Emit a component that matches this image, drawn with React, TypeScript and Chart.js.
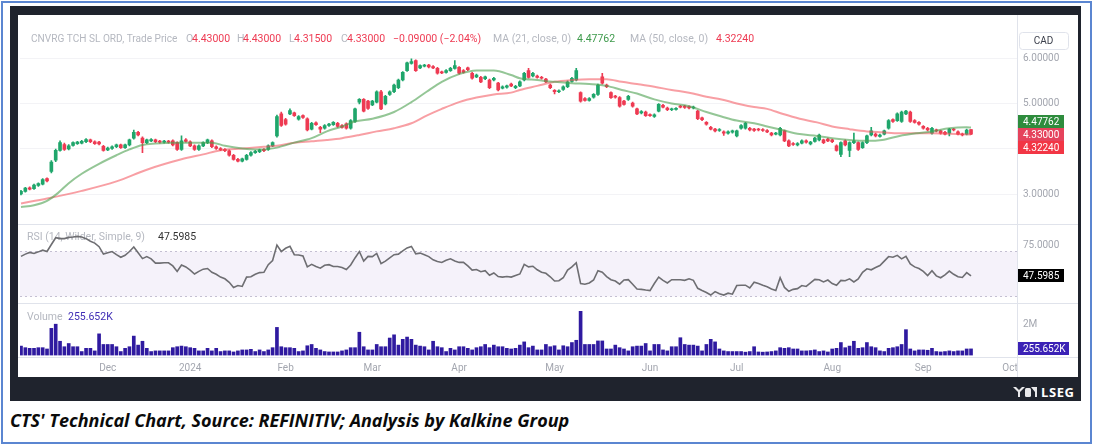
import React, { useEffect, useRef } from 'react';
import { Chart, registerables } from 'chart.js';

Chart.register(...registerables);

// ---------------- DATA (trading-day index 0 = early Nov 2023) ----------------
const opens = [
  3.00,3.06,3.14,3.12,3.19,3.22,3.34,3.50,3.75,3.97,
  4.10,4.00,4.08,4.12,4.13,4.16,4.20,4.16,4.15,4.06,
  3.98,4.01,4.05,4.09,4.03,4.09,4.24,4.37,4.24,4.14,
  4.18,4.20,4.17,4.15,4.17,4.18,4.14,3.99,4.20,4.16,
  4.07,3.99,4.07,4.14,4.18,4.05,4.01,3.99,3.96,3.86,
  3.77,3.73,3.77,3.86,3.92,3.94,3.99,3.99,4.07,4.29,
  4.78,4.65,4.78,4.80,4.66,4.74,4.67,4.44,4.58,4.48,
  4.46,4.52,4.54,4.57,4.52,4.56,4.46,4.61,5.04,5.10,
  5.06,4.98,5.04,5.27,5.00,5.21,5.27,5.36,5.53,5.74,
  5.90,5.96,5.80,5.84,5.86,5.83,5.79,5.71,5.70,5.74,
  5.79,5.81,5.74,5.80,5.68,5.60,5.59,5.56,5.53,5.53,
  5.46,5.35,5.37,5.44,5.36,5.40,5.53,5.74,5.62,5.62,
  5.59,5.55,5.42,5.30,5.27,5.32,5.38,5.50,5.53,5.25,
  5.12,5.08,5.15,5.21,5.60,5.42,5.25,5.17,5.14,5.06,
  5.10,5.02,4.89,4.80,4.82,4.76,4.72,4.84,4.97,4.91,
  4.87,4.88,4.95,4.95,4.94,4.91,4.84,4.69,4.59,4.48,
  4.44,4.41,4.38,4.35,4.37,4.29,4.46,4.46,4.46,4.44,
  4.44,4.43,4.41,4.35,4.33,4.31,4.40,4.18,4.12,4.09,
  4.13,4.18,4.11,4.17,4.20,4.20,4.22,4.20,4.07,3.88,
  4.18,3.97,4.14,4.14,4.03,4.14,4.31,4.33,4.28,4.33,
  4.46,4.65,4.63,4.61,4.78,4.82,4.63,4.59,4.50,4.46,
  4.35,4.42,4.40,4.37,4.35,4.44,4.38,4.33,4.33,4.43,
];
const highs = [
  3.08,3.15,3.16,3.22,3.25,3.34,3.36,3.74,4.00,4.18,
  4.13,4.10,4.16,4.17,4.19,4.23,4.22,4.18,4.17,4.08,
  4.04,4.07,4.11,4.11,4.11,4.22,4.42,4.39,4.27,4.22,
  4.23,4.22,4.19,4.19,4.19,4.20,4.16,4.29,4.23,4.18,
  4.09,4.09,4.16,4.22,4.20,4.07,4.03,4.01,3.98,3.88,
  3.79,3.80,3.88,3.94,3.97,4.00,4.01,4.09,4.16,4.75,
  4.82,4.68,4.89,4.82,4.74,4.76,4.69,4.59,4.60,4.50,
  4.54,4.57,4.61,4.59,4.54,4.58,4.65,4.91,5.12,5.12,
  5.08,5.08,5.29,5.30,5.19,5.29,5.44,5.55,5.72,5.93,
  6.00,5.98,5.87,5.88,5.88,5.85,5.81,5.73,5.76,5.81,
  5.96,5.83,5.76,5.82,5.70,5.66,5.61,5.62,5.55,5.59,
  5.48,5.40,5.42,5.46,5.41,5.51,5.70,5.79,5.70,5.64,
  5.61,5.57,5.44,5.32,5.31,5.40,5.51,5.59,5.79,5.27,
  5.14,5.14,5.23,5.44,5.68,5.44,5.27,5.19,5.16,5.08,
  5.19,5.04,4.91,4.85,4.84,4.78,4.78,5.01,4.99,4.93,
  4.91,4.92,4.97,4.97,4.96,4.95,4.86,4.71,4.61,4.50,
  4.46,4.45,4.40,4.40,4.42,4.42,4.54,4.59,4.48,4.46,
  4.46,4.45,4.43,4.37,4.37,4.48,4.42,4.20,4.14,4.14,
  4.20,4.20,4.17,4.26,4.33,4.22,4.24,4.22,4.09,4.16,
  4.20,4.16,4.35,4.16,4.16,4.31,4.48,4.35,4.33,4.42,
  4.65,4.67,4.80,4.84,4.86,4.84,4.65,4.61,4.52,4.48,
  4.48,4.44,4.42,4.39,4.46,4.46,4.40,4.35,4.44,4.43,
];
const lows = [
  2.98,3.04,3.09,3.10,3.17,3.20,3.27,3.47,3.72,3.95,
  3.97,3.98,4.06,4.10,4.11,4.14,4.14,4.10,4.09,3.95,
  3.96,3.99,4.03,4.01,4.01,4.07,4.22,4.29,3.92,4.12,
  4.16,4.14,4.13,4.13,4.13,4.07,3.97,3.97,4.15,4.05,
  3.97,3.97,4.05,4.12,4.03,3.99,3.96,3.94,3.84,3.75,
  3.71,3.71,3.75,3.84,3.90,3.92,3.94,3.97,4.05,4.26,
  4.50,4.53,4.76,4.72,4.64,4.68,4.40,4.42,4.52,4.36,
  4.44,4.50,4.52,4.48,4.46,4.44,4.44,4.59,5.00,4.82,
  4.88,4.96,5.02,4.87,4.98,5.19,5.25,5.34,5.51,5.72,
  5.88,5.72,5.78,5.82,5.80,5.78,5.66,5.67,5.68,5.72,
  5.77,5.66,5.68,5.74,5.55,5.58,5.47,5.54,5.34,5.51,
  5.29,5.33,5.35,5.38,5.34,5.38,5.51,5.57,5.60,5.57,
  5.55,5.47,5.34,5.22,5.25,5.30,5.36,5.48,5.51,5.04,
  5.06,5.06,5.13,5.19,5.44,5.36,5.12,5.13,4.93,4.97,
  5.08,4.93,4.76,4.78,4.72,4.72,4.70,4.82,4.91,4.85,
  4.85,4.86,4.91,4.90,4.89,4.89,4.65,4.63,4.53,4.42,
  4.38,4.39,4.30,4.33,4.35,4.27,4.44,4.44,4.40,4.39,
  4.40,4.39,4.36,4.29,4.31,4.29,4.16,4.05,4.08,4.07,
  4.11,4.13,4.09,4.15,4.18,4.12,4.16,4.14,3.95,3.83,
  4.07,3.83,4.12,3.97,4.01,4.12,4.29,4.27,4.26,4.31,
  4.44,4.59,4.61,4.59,4.76,4.59,4.57,4.53,4.44,4.40,
  4.33,4.38,4.33,4.31,4.29,4.40,4.31,4.29,4.31,4.315,
];
const closes = [
  3.06,3.13,3.11,3.20,3.23,3.32,3.29,3.71,3.97,4.14,
  3.99,4.07,4.14,4.15,4.17,4.21,4.16,4.12,4.11,3.97,
  4.02,4.05,4.09,4.03,4.09,4.20,4.37,4.31,4.14,4.20,
  4.21,4.16,4.15,4.17,4.15,4.09,3.99,4.18,4.17,4.07,
  3.99,4.07,4.14,4.20,4.05,4.01,3.98,3.96,3.86,3.77,
  3.73,3.78,3.86,3.92,3.95,3.98,3.96,4.07,4.14,4.72,
  4.52,4.55,4.85,4.74,4.72,4.70,4.42,4.57,4.54,4.44,
  4.52,4.55,4.59,4.50,4.48,4.46,4.63,4.89,5.10,4.84,
  4.90,5.06,5.27,4.89,5.17,5.27,5.42,5.53,5.70,5.91,
  5.94,5.74,5.85,5.86,5.82,5.80,5.68,5.69,5.74,5.79,
  5.85,5.68,5.70,5.76,5.57,5.64,5.49,5.60,5.36,5.57,
  5.31,5.38,5.40,5.40,5.39,5.49,5.68,5.59,5.68,5.59,
  5.57,5.49,5.36,5.27,5.29,5.38,5.49,5.57,5.74,5.06,
  5.08,5.12,5.21,5.42,5.46,5.38,5.14,5.15,4.95,4.99,
  5.17,4.95,4.78,4.83,4.74,4.74,4.76,4.99,4.93,4.87,
  4.89,4.90,4.93,4.92,4.91,4.93,4.67,4.65,4.55,4.44,
  4.40,4.43,4.35,4.38,4.40,4.40,4.52,4.57,4.42,4.41,
  4.42,4.41,4.38,4.31,4.35,4.46,4.18,4.07,4.10,4.12,
  4.18,4.15,4.15,4.24,4.31,4.14,4.18,4.16,3.97,4.14,
  4.09,4.14,4.18,3.99,4.14,4.29,4.40,4.29,4.31,4.40,
  4.63,4.61,4.78,4.82,4.84,4.61,4.59,4.55,4.46,4.42,
  4.46,4.40,4.35,4.33,4.44,4.42,4.33,4.31,4.42,4.33,
];
// volume in thousands
const volumes = [
  454,341,295,295,341,341,250,1705,2000,795,
  409,636,409,409,68,295,295,114,1318,568,
  568,568,409,68,295,409,1159,523,795,295,
  68,114,114,114,114,341,409,454,409,341,
  295,114,114,295,114,295,68,114,114,40,
  114,182,182,227,68,182,68,182,341,1773,
  409,341,341,295,68,114,477,568,295,182,
  68,40,40,40,114,182,341,341,1432,409,
  182,182,568,409,409,1023,1250,523,932,1091,
  932,523,454,409,182,795,409,341,68,295,
  182,409,409,295,182,341,409,568,341,523,
  409,409,295,250,295,523,750,341,454,182,
  182,568,409,477,182,477,409,704,864,2909,
  568,568,568,818,818,250,250,523,341,250,
  114,409,454,454,636,114,568,568,182,114,
  409,409,1045,568,523,523,454,114,568,932,
  750,250,114,68,68,68,68,25,68,409,
  40,25,40,68,114,341,295,341,250,250,
  114,114,136,182,68,114,40,250,295,704,
  341,454,795,295,341,704,409,341,114,68,
  295,341,409,568,1614,250,114,182,182,159,
  295,68,40,68,114,68,114,114,250,255.652,
];
const rsiValues = [
  65.1,67.1,68.6,67.7,69.1,70.6,69.4,75.7,81.7,80.9,
  80.9,82.0,82.3,82.9,82.3,80.9,78.6,76.9,73.7,67.1,
  68.3,69.4,66.6,64.3,66.0,69.4,73.4,68.3,63.1,64.9,
  62.9,59.1,59.1,59.4,59.4,56.6,51.7,57.4,55.7,52.9,
  49.4,51.7,53.7,54.3,50.9,49.1,46.6,45.1,42.0,37.4,
  39.1,38.3,46.6,46.9,49.1,50.6,50.9,57.7,61.4,75.1,
  69.4,72.3,74.0,66.6,66.3,65.4,55.7,58.0,56.0,54.6,
  57.1,57.7,56.0,56.0,55.1,53.4,57.4,63.7,69.4,60.9,
  65.1,64.9,67.7,58.6,60.9,63.7,66.6,67.1,70.0,72.6,
  74.0,67.4,68.0,66.6,64.9,62.0,60.6,59.7,61.7,62.9,
  60.9,59.7,59.7,56.6,52.9,53.4,51.4,52.3,48.3,50.3,
  47.1,46.6,47.1,46.6,48.0,49.4,58.0,55.7,56.3,53.1,
  50.9,50.0,46.9,43.1,43.4,46.0,52.9,55.7,59.4,40.9,
  40.3,41.4,44.0,52.3,50.9,47.1,44.3,43.1,40.3,44.0,
  44.3,40.3,36.0,35.7,35.1,34.6,40.9,46.6,43.7,41.4,
  44.3,44.3,44.3,43.7,45.1,43.7,36.6,34.6,32.9,30.6,
  33.7,31.7,30.6,32.3,31.4,39.1,39.4,39.4,36.9,42.0,
  40.9,39.4,38.0,36.0,34.6,46.0,37.4,34.0,35.7,36.3,
  39.1,38.3,41.4,44.6,44.3,42.3,44.0,40.9,39.4,43.7,
  43.4,45.1,42.3,44.9,50.9,54.0,53.1,55.1,56.9,60.9,
  64.9,64.3,66.0,62.9,65.1,58.3,55.7,54.3,51.7,48.0,
  52.3,47.7,46.0,48.6,52.0,49.1,46.9,46.3,50.6,47.5985,
];
// moving averages at these trading-day indices
const ma21Idx = [0,3,6,8.5,11,14,18,22,25,28,31,35,39,44,47,51,54,56,59,63,67,70.5,74,77,81,86,90,93.5,97,101,105,109,113,115,119,123,127,131,135,138.5,142,146,150,154,158,161.5,165,169,172,175.5,179.5,183.5,187,191,195,198.5,202.5,206.5,210,214,218,219];
const ma21Vals = [2.71,2.75,2.85,3.02,3.24,3.45,3.67,3.86,3.99,4.09,4.12,4.14,4.14,4.14,4.07,4.01,3.99,3.99,4.03,4.14,4.24,4.39,4.50,4.61,4.67,4.82,5.04,5.27,5.49,5.66,5.74,5.74,5.64,5.57,5.53,5.49,5.46,5.44,5.40,5.31,5.23,5.10,5.01,4.95,4.82,4.72,4.63,4.57,4.50,4.42,4.33,4.29,4.24,4.20,4.18,4.20,4.29,4.35,4.39,4.46,4.48,4.47762];
const ma50Idx = [0,6,14,22,29,37,42,46,51,56,59,63,67,70.5,74,78,82,86,90,93.5,97,101,105,109,113,115,119,123,127,131,135,138.5,142,146,150,154,158,161.5,165,169,172,175.5,179.5,183.5,187,191,195,198.5,202.5,206.5,210,214,219];
const ma50Vals = [2.79,2.90,3.07,3.28,3.54,3.77,3.88,3.97,4.01,4.05,4.07,4.14,4.17,4.20,4.24,4.31,4.39,4.46,4.57,4.74,4.89,5.04,5.14,5.21,5.25,5.31,5.40,5.49,5.53,5.55,5.55,5.49,5.44,5.38,5.31,5.25,5.16,5.10,5.01,4.93,4.89,4.78,4.67,4.59,4.50,4.44,4.39,4.37,4.35,4.35,4.35,4.34,4.3224];

const monthTickIdx = [20, 39, 61, 81, 101, 123, 145, 165, 187, 208, 228];
const monthLabels = ['Dec', '2024', 'Feb', 'Mar', 'Apr', 'May', 'Jun', 'Jul', 'Aug', 'Sep', 'Oct'];
const priceTicks = [3, 4, 5, 6];
const rsiTicks = [75];
const volTicks = [2000];
const RSI_UPPER = 70;
const RSI_LOWER = 30;

// ---------------- STYLE ----------------
const UP = '#1fa66b';
const DOWN = '#ee3a52';
const GREY = '#a3a6af';
const LABEL = '#b5b8c0';
const FONT = 'Roboto';

const last = closes.length - 1;
const lastClose = closes[last];
const lastMa21 = ma21Vals[ma21Vals.length - 1];
const lastMa50 = ma50Vals[ma50Vals.length - 1];
const lastRsi = rsiValues[last];
const lastVol = volumes[last];
const change = closes[last] - closes[last - 1];
const changePct = (change / closes[last - 1]) * 100;
const fmtSigned = (v: number, d: number) => (v < 0 ? '\u2212' : '+') + Math.abs(v).toFixed(d);

const candleColors = opens.map((o, i) => (closes[i] >= o ? UP : DOWN));

const tvPlugin = {
  id: 'tvPanes',
  beforeDatasetsDraw(chart: any) {
    const { ctx, chartArea: ca, scales } = chart;
    const r = scales.yRsi;
    const yU = Math.round(r.getPixelForValue(RSI_UPPER)) + 0.5;
    const yL = Math.round(r.getPixelForValue(RSI_LOWER)) + 0.5;
    ctx.save();
    ctx.fillStyle = 'rgba(126,87,194,0.08)';
    ctx.fillRect(ca.left, yU, ca.right - ca.left, yL - yU);
    ctx.strokeStyle = '#c4bfd2';
    ctx.lineWidth = 1;
    ctx.setLineDash([2, 3]);
    [yU, yL].forEach((y) => {
      ctx.beginPath();
      ctx.moveTo(ca.left, y);
      ctx.lineTo(ca.right, y);
      ctx.stroke();
    });
    ctx.setLineDash([]);

    // pane legends
    ctx.textBaseline = 'middle';
    ctx.textAlign = 'left';
    const L = ca.left;
    const put = (t: string, x: number, y: number, c: string, size = 10.5) => {
      ctx.font = `${size}px ${FONT}`;
      ctx.fillStyle = c;
      ctx.fillText(t, L + x, y);
    };
    const y0 = ca.top + 12;
    put('CNVRG TCH SL ORD, Trade Price', 11, y0, LABEL, 10.1);
    put('O', 166, y0, LABEL);
    put(opens[last].toFixed(5), 172, y0, DOWN);
    put('H', 217, y0, LABEL);
    put(highs[last].toFixed(5), 223, y0, DOWN);
    put('L', 269, y0, LABEL);
    put(lows[last].toFixed(5), 274, y0, DOWN);
    put('C', 321, y0, LABEL);
    put(closes[last].toFixed(5), 327, y0, DOWN);
    put(`${fmtSigned(change, 5)} (${fmtSigned(changePct, 2)}%)`, 373, y0, DOWN);
    put('MA (21, close, 0)', 473, y0, LABEL);
    put(lastMa21.toFixed(5), 557, y0, '#3e9a4c');
    put('MA (50, close, 0)', 610, y0, LABEL);
    put(lastMa50.toFixed(5), 696, y0, DOWN);

    const yr = scales.yRsi.top + 14;
    put('RSI (14, Wilder, Simple, 9)', 7, yr, LABEL);
    put(lastRsi.toFixed(4), 138, yr, '#333333');
    const yv = scales.yVol.top + 14;
    put('Volume', 7, yv, LABEL);
    put(lastVol.toFixed(3) + 'K', 48, yv, '#3f2db5');
    ctx.restore();
  },
  afterDraw(chart: any) {
    const { ctx, chartArea: ca, scales, width, height } = chart;
    const sp = scales.yPrice;
    const sr = scales.yRsi;
    const sv = scales.yVol;
    ctx.save();
    ctx.strokeStyle = '#e0e3eb';
    ctx.lineWidth = 1;
    const hline = (y: number) => {
      const yy = Math.round(y) + 0.5;
      ctx.beginPath();
      ctx.moveTo(0, yy);
      ctx.lineTo(width, yy);
      ctx.stroke();
    };
    hline(sp.bottom);
    hline(sr.bottom);
    hline(ca.bottom);
    const xx = Math.round(ca.right) + 0.5;
    ctx.beginPath();
    ctx.moveTo(xx, 0);
    ctx.lineTo(xx, height);
    ctx.stroke();

    const bx = Math.round(ca.right) + 1;
    const H = 13;
    const badge = (text: string, yc: number, bg: string, w: number) => {
      const top = Math.round(yc - H / 2);
      ctx.fillStyle = bg;
      ctx.fillRect(bx, top, w, H);
      ctx.fillStyle = '#ffffff';
      ctx.font = `10px ${FONT}`;
      ctx.textBaseline = 'middle';
      ctx.textAlign = 'left';
      ctx.fillText(text, bx + 5, top + H / 2 + 0.5);
    };

    // price badges, stacked around the last price like the platform does
    const items = [
      { v: lastMa21, bg: '#2e8c3d', fixed: false },
      { v: lastClose, bg: '#e5435c', fixed: true },
      { v: lastMa50, bg: '#f23645', fixed: false },
    ].map((b) => ({ ...b, raw: sp.getPixelForValue(b.v), y: 0 }));
    items.sort((a, b) => a.raw - b.raw);
    const fi = items.findIndex((b) => b.fixed);
    items[fi].y = items[fi].raw;
    for (let k = fi - 1; k >= 0; k--) items[k].y = Math.min(items[k].raw, items[k + 1].y - H);
    for (let k = fi + 1; k < items.length; k++) items[k].y = Math.max(items[k].raw, items[k - 1].y + H);
    items.forEach((b) => badge(b.v.toFixed(5), b.y, b.bg, 46));

    badge(lastRsi.toFixed(4), sr.getPixelForValue(lastRsi), '#000000', 46);
    badge(lastVol.toFixed(3) + 'K', sv.getPixelForValue(lastVol), '#3b22b6', 51);

    // currency box
    const cx = bx + 1, cy = ca.top + 5, cw = 49, ch = 17;
    ctx.fillStyle = '#ffffff';
    ctx.strokeStyle = '#e0e3eb';
    ctx.beginPath();
    ctx.roundRect(cx + 0.5, cy + 0.5, cw, ch, 3);
    ctx.fill();
    ctx.stroke();
    ctx.fillStyle = '#3a3e4a';
    ctx.font = `10px ${FONT}`;
    ctx.textAlign = 'center';
    ctx.textBaseline = 'middle';
    ctx.fillText('CAD', cx + cw / 2, cy + ch / 2 + 1);
    ctx.restore();
  },
};

export default function App() {
  const ref = useRef<HTMLCanvasElement>(null);

  useEffect(() => {
    const canvas = ref.current;
    if (!canvas) return;
    const tickFont = { family: FONT, size: 10 };
    const chart = new Chart(canvas, {
      type: 'bar',
      data: {
        datasets: [
          {
            type: 'line',
            label: 'MA 21',
            data: ma21Idx.map((x, i) => ({ x, y: ma21Vals[i] })),
            yAxisID: 'yPrice',
            borderColor: 'rgba(76,160,80,0.6)',
            borderWidth: 2,
            pointRadius: 0,
            cubicInterpolationMode: 'monotone',
            order: 0,
          },
          {
            type: 'line',
            label: 'MA 50',
            data: ma50Idx.map((x, i) => ({ x, y: ma50Vals[i] })),
            yAxisID: 'yPrice',
            borderColor: 'rgba(242,80,90,0.55)',
            borderWidth: 2,
            pointRadius: 0,
            cubicInterpolationMode: 'monotone',
            order: 0,
          },
          {
            type: 'bar',
            label: 'wick',
            data: lows.map((l, i) => ({ x: i, y: [l, highs[i]] })),
            yAxisID: 'yPrice',
            backgroundColor: candleColors,
            barThickness: 1,
            grouped: false,
            order: 2,
          },
          {
            type: 'bar',
            label: 'body',
            data: opens.map((o, i) => ({ x: i, y: [o, closes[i]] })),
            yAxisID: 'yPrice',
            backgroundColor: candleColors,
            barThickness: 3,
            minBarLength: 1,
            grouped: false,
            order: 1,
          },
          {
            type: 'line',
            label: 'RSI',
            data: rsiValues.map((v, i) => ({ x: i, y: v })),
            yAxisID: 'yRsi',
            borderColor: '#6e6e72',
            borderWidth: 1.6,
            pointRadius: 0,
            tension: 0,
            order: 0,
          },
          {
            type: 'bar',
            label: 'Volume',
            data: volumes.map((v, i) => ({ x: i, y: v })),
            yAxisID: 'yVol',
            backgroundColor: '#2f1aa0',
            barThickness: 3,
            grouped: false,
            base: -180,
            order: 1,
          },
        ] as any,
      },
      options: {
        animation: false,
        responsive: false,
        maintainAspectRatio: false,
        devicePixelRatio: 1,
        events: [],
        layout: { padding: { left: 2, right: 0, top: 0, bottom: 0 } },
        plugins: { legend: { display: false }, tooltip: { enabled: false } },
        scales: {
          x: {
            type: 'linear',
            min: -0.23,
            max: 229.6,
            offset: false,
            bounds: 'data',
            grid: { display: false, offset: false, drawTicks: false },
            border: { display: false },
            afterBuildTicks: (s: any) => {
              s.ticks = monthTickIdx.map((value) => ({ value }));
            },
            afterFit: (s: any) => {
              s.height = 20;
            },
            ticks: {
              autoSkip: false,
              maxRotation: 0,
              minRotation: 0,
              padding: 5,
              color: GREY,
              font: tickFont,
              callback: (v: any) => {
                const k = monthTickIdx.indexOf(Number(v));
                return k >= 0 ? monthLabels[k] : '';
              },
            },
          },
          yPrice: {
            type: 'linear',
            position: 'right',
            stack: 'panes',
            stackWeight: 204,
            weight: 1,
            min: 2.338,
            max: 6.707,
            bounds: 'data',
            grid: { color: '#f3f3f6', drawTicks: false },
            border: { display: false },
            afterBuildTicks: (s: any) => {
              s.ticks = priceTicks.map((value) => ({ value }));
            },
            afterFit: (s: any) => {
              s.width = 61;
            },
            ticks: { padding: 6, color: GREY, font: tickFont, callback: (v: any) => Number(v).toFixed(5) },
          },
          yRsi: {
            type: 'linear',
            position: 'right',
            stack: 'panes',
            stackWeight: 82,
            weight: 2,
            min: 23.55,
            max: 94.09,
            bounds: 'data',
            grid: { display: false, drawTicks: false },
            border: { display: false },
            afterBuildTicks: (s: any) => {
              s.ticks = rsiTicks.map((value) => ({ value }));
            },
            afterFit: (s: any) => {
              s.width = 61;
            },
            ticks: { padding: 6, color: GREY, font: tickFont, callback: (v: any) => Number(v).toFixed(4) },
          },
          yVol: {
            type: 'linear',
            position: 'right',
            stack: 'panes',
            stackWeight: 56,
            weight: 3,
            min: -316.7,
            max: 3499,
            bounds: 'data',
            grid: { display: false, drawTicks: false },
            border: { display: false },
            afterBuildTicks: (s: any) => {
              s.ticks = volTicks.map((value) => ({ value }));
            },
            afterFit: (s: any) => {
              s.width = 61;
            },
            ticks: { padding: 6, color: GREY, font: tickFont, callback: (v: any) => Number(v) / 1000 + 'M' },
          },
        },
      } as any,
      plugins: [tvPlugin],
    });
    return () => chart.destroy();
  }, []);

  return (
    <div
      style={{
        position: 'absolute',
        left: 0,
        top: 0,
        width: 1094,
        height: 446,
        background: '#ffffff',
        overflow: 'hidden',
      }}
    >
      <div
        style={{
          position: 'absolute',
          left: 1,
          top: 1,
          width: 1091,
          height: 443,
          border: '2px solid #5b86d1',
          boxSizing: 'border-box',
        }}
      />
      <div style={{ position: 'absolute', left: 10, top: 6, width: 1071, height: 395, background: '#1f232d' }} />
      <div style={{ position: 'absolute', left: 18, top: 15, width: 1060, height: 362, background: '#ffffff' }}>
        <canvas ref={ref} width={1060} height={362} style={{ display: 'block', width: 1060, height: 362 }} />
      </div>
      <svg
        style={{ position: 'absolute', left: 1012, top: 386, width: 26, height: 12 }}
        viewBox="0 0 26 12"
      >
        <path d="M1 1 L6 6 L6 11 L8 11 L8 6 L13 1 L10 1 L7 4 L4 1 Z" fill="#e8e8ea" />
        <rect x="13" y="2" width="6" height="9" rx="1.5" fill="#e8e8ea" />
        <path d="M19 1 L23 6 L23 11 L25 11 L25 1 Z" fill="#e8e8ea" />
      </svg>
      <div
        style={{
          position: 'absolute',
          left: 1041,
          top: 384,
          color: '#ffffff',
          fontFamily: '"Open Sans", sans-serif',
          fontWeight: 700,
          fontSize: 13,
          lineHeight: '16px',
          letterSpacing: 0.6,
        }}
      >
        LSEG
      </div>
      <div
        style={{
          position: 'absolute',
          left: 10,
          top: 408,
          color: '#0b0b0b',
          fontFamily: '"Open Sans", sans-serif',
          fontStyle: 'italic',
          fontWeight: 700,
          fontSize: 18,
          lineHeight: '25px',
          whiteSpace: 'nowrap',
        }}
      >
        CTS' Technical Chart, Source: REFINITIV; Analysis by Kalkine Group
      </div>
    </div>
  );
}
